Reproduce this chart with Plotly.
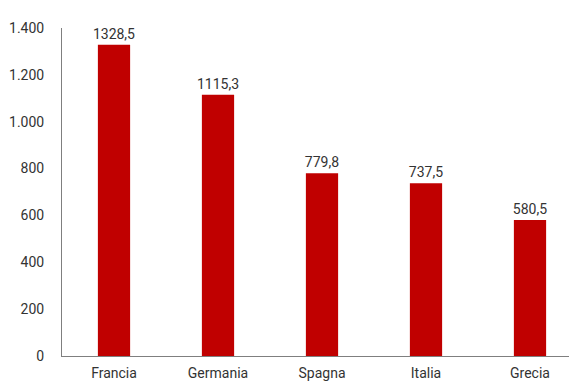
import plotly.graph_objects as go

# Values per country
paesi = ["Francia", "Germania", "Spagna", "Italia", "Grecia"]
valori = [1328.5, 1115.3, 779.8, 737.5, 580.5]
y_ticks = [0, 200, 400, 600, 800, 1000, 1200, 1400]

FONT = "Roboto"
TEXT_COL = "#333333"
AXIS_COL = "#7f7f7f"
BAR_COL = "#C00000"

fig = go.Figure(
    go.Bar(
        x=paesi,
        y=valori,
        marker=dict(color=BAR_COL, line=dict(width=0)),
        texttemplate="%{y:.1f}",
        textposition="outside",
        constraintext="none",
        outsidetextfont=dict(family=FONT, size=14, color=TEXT_COL),
        cliponaxis=False,
        width=0.31,
    )
)

fig.update_layout(
    width=569,
    height=381,
    margin=dict(l=62, r=0, t=28, b=25),
    paper_bgcolor="white",
    plot_bgcolor="white",
    separators=",.",
    showlegend=False,
    font=dict(family=FONT, size=14, color=TEXT_COL),
)

fig.update_xaxes(
    range=[-0.5, 4.375],
    automargin=False,
    showline=True,
    linecolor=AXIS_COL,
    linewidth=1,
    showgrid=False,
    ticks="",
    ticklabelstandoff=4,
    tickfont=dict(family=FONT, size=14, color=TEXT_COL),
)

fig.update_yaxes(
    range=[0, 1400],
    tickvals=y_ticks,
    tickformat=",.0f",
    automargin=False,
    showline=True,
    linecolor=AXIS_COL,
    linewidth=1,
    showgrid=False,
    zeroline=False,
    ticks="",
    ticklabelstandoff=14,
    tickfont=dict(family=FONT, size=14, color=TEXT_COL),
)

fig.write_html("out.html")
